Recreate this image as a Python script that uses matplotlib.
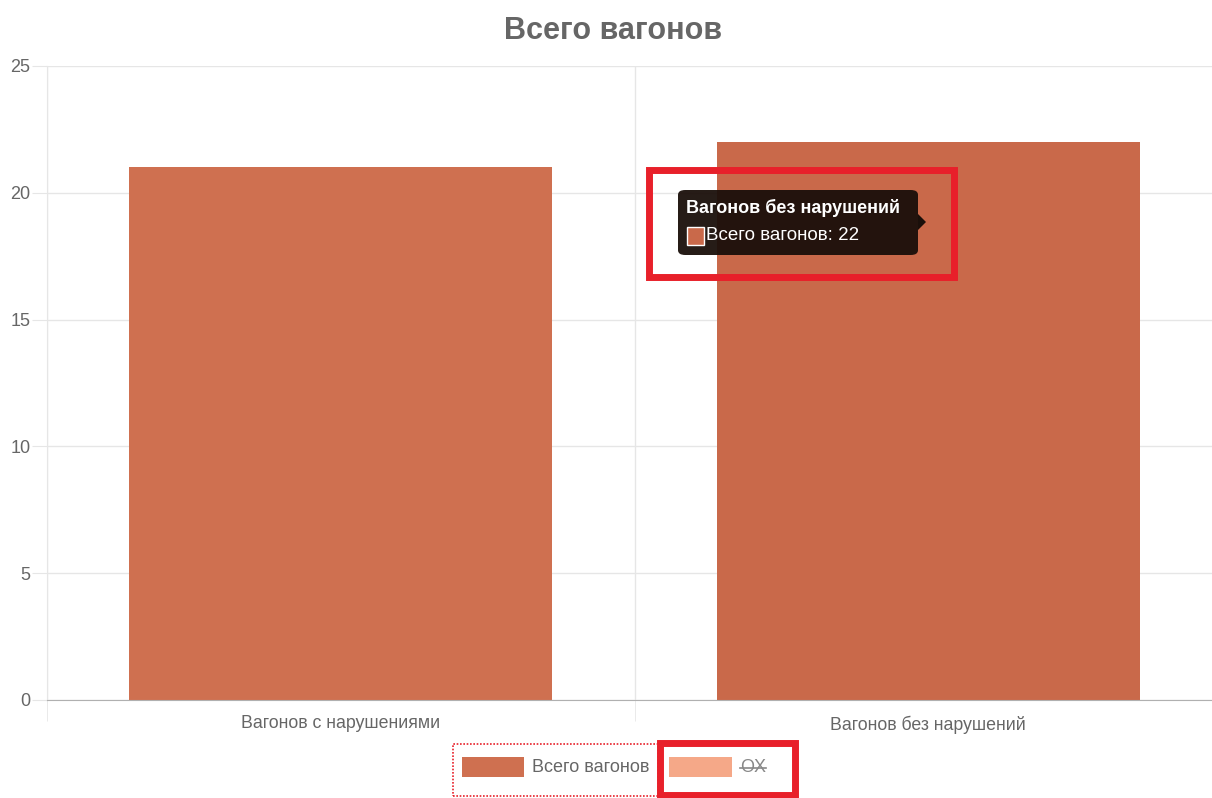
import matplotlib.pyplot as plt
from matplotlib.patches import Rectangle, FancyBboxPatch, Polygon
from matplotlib.lines import Line2D

# данные
categories = ['Вагонов с нарушениями', 'Вагонов без нарушений']
values = [21, 22]
bar_colors = ['#CF7050', '#C9694A']
series_name = 'Всего вагонов'
hidden_series = 'OX'
yticks = [0, 5, 10, 15, 20, 25]

plt.rcParams['font.family'] = ['Liberation Sans', 'DejaVu Sans']

W, H = 1212, 798
fig = plt.figure(figsize=(W / 100, H / 100), dpi=100)
# область графика немного выходит за правый край картинки
ax = fig.add_axes([47 / W, 1 - 700 / H, 1175 / W, (700 - 66) / H])

x = list(range(len(categories)))
ax.bar(x, values, width=0.72, color=bar_colors, zorder=2)

ax.set_xlim(-0.5, len(categories) - 0.5)
ax.set_ylim(0, 25)
ax.set_yticks(yticks)
ax.set_xticks(x)
ax.set_xticklabels(categories)
ax.set_xticks([i - 0.5 for i in range(len(categories) + 1)], minor=True)

ax.grid(axis='y', color='#e6e6e6', linewidth=1, zorder=0)
ax.grid(axis='x', which='minor', color='#e6e6e6', linewidth=1, zorder=0)
ax.tick_params(axis='y', length=11, color='#e6e6e6', labelcolor='#666666', labelsize=13, pad=1)
ax.tick_params(axis='x', which='major', length=0, labelcolor='#666666', labelsize=12.8, pad=11)
ax.tick_params(axis='x', which='minor', length=15, color='#e6e6e6')
for s in ['top', 'right']:
    ax.spines[s].set_visible(False)
ax.spines['left'].set_color('#e6e6e6')
ax.spines['bottom'].set_color('#b0b0b0')

fig.text(613.5 / W, 1 - 31 / H, series_name, ha='center', va='center', fontsize=22,
         fontweight='bold', color='#666666')


def px(xp, yp):
    return xp / W, 1 - yp / H


# всплывающая подсказка
tx, ty = px(678, 255)
fig.add_artist(FancyBboxPatch((tx, ty), 240 / W, 65 / H, boxstyle='round,pad=0,rounding_size=0.006',
                              transform=fig.transFigure, facecolor='#1a0f0a', alpha=0.95,
                              edgecolor='none', zorder=5))
fig.add_artist(Polygon([px(918, 214), px(926, 222), px(918, 230)], closed=True,
                       transform=fig.transFigure, facecolor='#1a0f0a', edgecolor='none', zorder=5))
fig.text(*px(686, 208), categories[1], fontsize=13, fontweight='bold', color='white',
         va='center', ha='left', zorder=6)
fig.add_artist(Rectangle(px(687, 245), 17 / W, 18 / H, transform=fig.transFigure,
                         facecolor=bar_colors[1], edgecolor='white', linewidth=1, zorder=6))
fig.text(*px(706, 236), f'{series_name}: {values[1]}', fontsize=13.5, color='white',
         va='center', ha='left', zorder=6)
fig.add_artist(Rectangle(px(649, 277), 305 / W, 107 / H, transform=fig.transFigure,
                         facecolor='none', edgecolor='#e8202a', linewidth=5, zorder=7))

# легенда
fig.add_artist(Rectangle(px(462, 777), 62 / W, 20 / H, transform=fig.transFigure,
                         facecolor=bar_colors[0], edgecolor='none'))
fig.text(*px(532, 768), series_name, fontsize=13, color='#666666', va='center', ha='left')
fig.add_artist(Rectangle(px(669, 777), 63 / W, 20 / H, transform=fig.transFigure,
                         facecolor='#F5A888', edgecolor='none'))
fig.text(*px(740, 768), hidden_series, fontsize=13, color='#888888', va='center', ha='left')
fig.add_artist(Line2D([740 / W, 766 / W], [1 - 768 / H, 1 - 768 / H], transform=fig.transFigure,
                      color='#888888', linewidth=1.2))
fig.add_artist(Rectangle(px(453, 796), 205 / W, 52 / H, transform=fig.transFigure,
                         facecolor='none', edgecolor='#e8202a', linewidth=1.2, linestyle=(0, (1, 1))))
fig.add_artist(Rectangle(px(660, 795), 135 / W, 52 / H, transform=fig.transFigure,
                         facecolor='none', edgecolor='#e8202a', linewidth=5))

fig.savefig('out.png', dpi=100)
